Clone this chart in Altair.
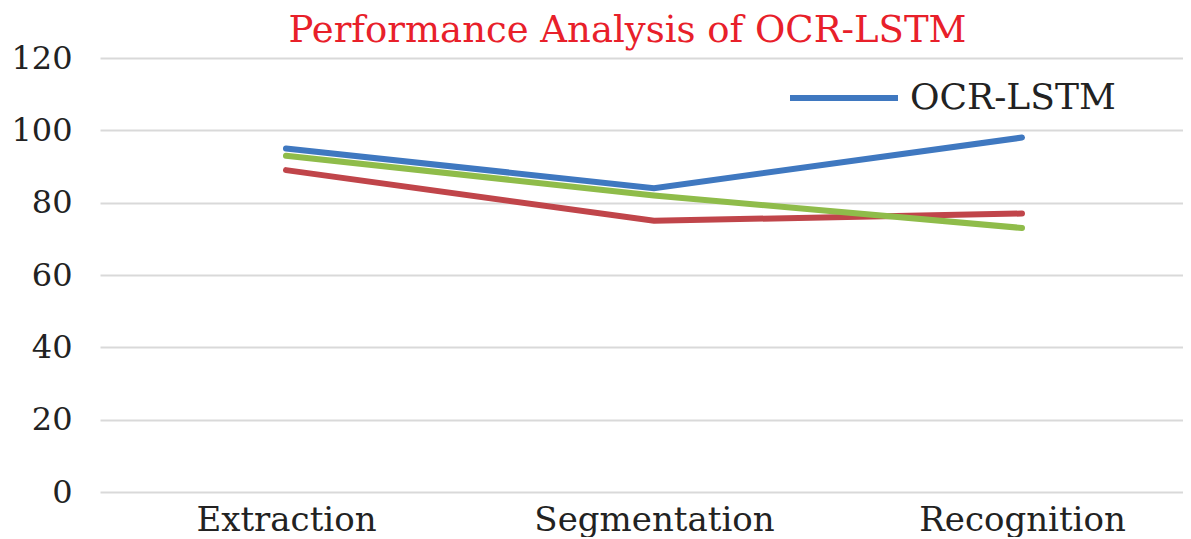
import altair as alt
import pandas as pd

stages = ["Extraction", "Segmentation", "Recognition"]
series_names = ["OCR-LSTM", "Series 2", "Series 3"]
ocr_lstm = [95, 84, 98]
series2 = [89, 75, 77]
series3 = [93, 82, 73]
y_ticks = [0, 20, 40, 60, 80, 100, 120]
colors = ["#3f78c0", "#c0454a", "#8fbc4a"]

rows = []
for name, vals in zip(series_names, [ocr_lstm, series2, series3]):
    for i, (s, v) in enumerate(zip(stages, vals)):
        rows.append({"idx": i, "stage": s, "value": v, "series": name})
df = pd.DataFrame(rows)

FONT = "DejaVu Serif"
label_expr = "[" + ",".join("'%s'" % s for s in stages) + "][datum.value]"

chart = alt.Chart(df).mark_line(strokeWidth=6, strokeCap="round").encode(
    x=alt.X("idx:Q", title=None,
            scale=alt.Scale(domain=[-0.5054, 2.4375], nice=False, zero=False),
            axis=alt.Axis(values=[0, 1, 2], labelExpr=label_expr, labelAngle=0,
                          labelFont=FONT, labelFontSize=34, labelColor="#222222",
                          labelLimit=500, labelPadding=11, ticks=False, domain=False,
                          grid=False, labelFlush=False, labelOverlap=False)),
    y=alt.Y("value:Q", title=None,
            scale=alt.Scale(domain=[0, 120], nice=False),
            axis=alt.Axis(values=y_ticks, labelFont=FONT, labelFontSize=32, labelColor="#222222",
                          labelPadding=28, ticks=False, domain=False, grid=True,
                          gridColor="#d9d9d9", gridWidth=2)),
    color=alt.Color("series:N", sort=series_names,
                    scale=alt.Scale(domain=series_names, range=colors),
                    legend=alt.Legend(values=["OCR-LSTM"], title=None, orient="none",
                                      legendX=687, legendY=-17, symbolType="stroke",
                                      symbolSize=11664, symbolStrokeWidth=6,
                                      labelFont=FONT, labelFontSize=36, labelColor="#222222",
                                      labelLimit=0, labelOffset=9, padding=0)),
    detail="series:N",
).properties(
    width=1083,
    height=434,
    title=alt.TitleParams("Performance Analysis of OCR-LSTM", font=FONT, fontSize=37,
                          fontWeight="normal", color="#e8202a", anchor="middle",
                          dx=-14, offset=-9),
    padding={"left": 92, "top": 50, "right": 0, "bottom": 45},
    autosize=alt.AutoSizeParams(type="none"),
).configure_view(stroke=None)

chart.save("out.html", embed_options={"renderer": "svg", "actions": False})
